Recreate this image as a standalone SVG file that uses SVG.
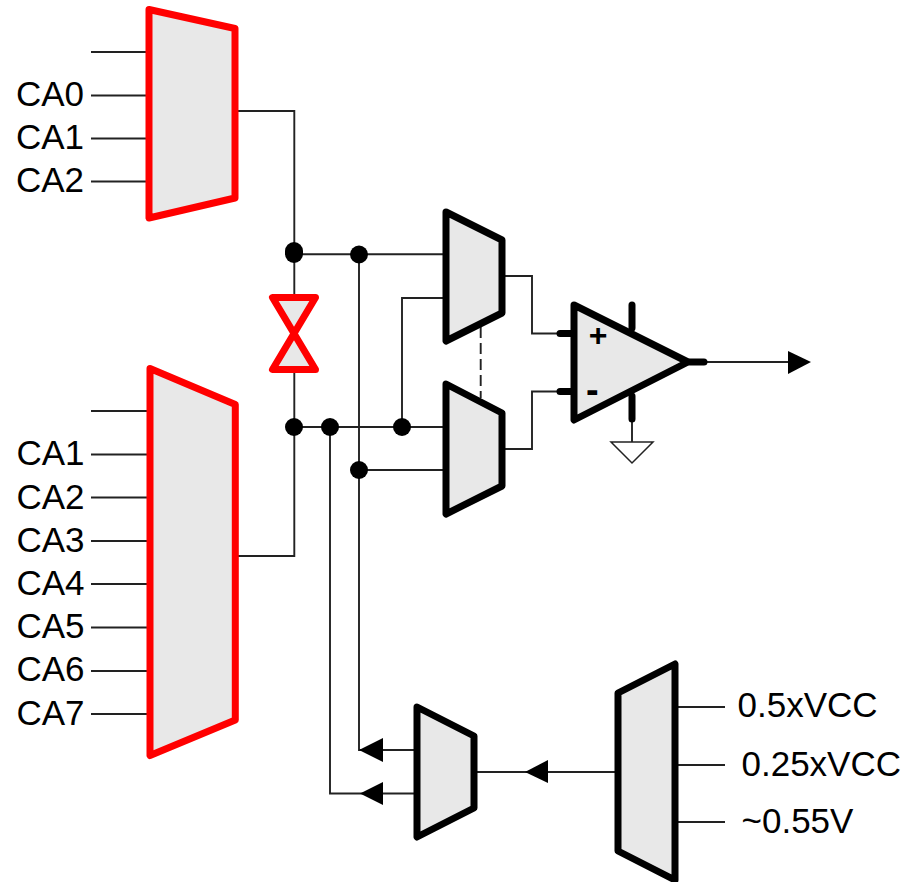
<svg xmlns="http://www.w3.org/2000/svg" width="916" height="882" viewBox="0 0 916 882">
<style>
.w{fill:none;stroke:#222;stroke-width:1.9}
.mux{fill:#e8e8e8;stroke:#000;stroke-width:7;stroke-linejoin:round}
.red{fill:#e8e8e8;stroke:#f00;stroke-width:7;stroke-linejoin:round}
.stub{fill:none;stroke:#000;stroke-width:7;stroke-linecap:round}
.t{font-family:"Liberation Sans",Arial,sans-serif;font-size:35px;fill:#000}
.s{font-family:"Liberation Sans",Arial,sans-serif;font-weight:bold;fill:#000}
.d{fill:#000}
</style>
<rect width="916" height="882" fill="#fff"/>
<g id="connectors">
<path class="w" d="M91 52H149M91 95.500H149M91 138.500H149M91 181.500H149"/>
<path class="w" d="M91 411H150M91 454.500H150M91 497.500H150M91 541H150M91 584H150M91 627.500H150M91 671H150M91 714H150"/>
<path class="w" d="M235 111H294.300V556H235"/>
<path class="w" d="M294 254.300H446M294 427H446M359 254V750H417M330 427V793.500H417M359 470H446M402 427V298H446"/>
<path class="w" d="M502 276H532V333.500H574M502 449H532V391.500H574"/>
<path class="w" stroke-dasharray="11 5" d="M480.700 327V398"/>
<path class="w" d="M688 362H790"/>
<path class="w" d="M474 772H618"/>
<path class="w" d="M675 707H725M675 765H725M675 822H725"/>
<path class="w" d="M632 420V442"/>
<path class="d" d="M811 362L788 351V374Z"/>
<path class="d" d="M525 772L548 760V783Z"/>
<path class="d" d="M359 750L383 738V762Z"/>
<path class="d" d="M360 793.500L383 782V805Z"/>
<circle class="d" cx="359" cy="254.500" r="9"/>
<rect class="d" x="285" y="242" width="18" height="21" rx="9"/>
<circle class="d" cx="294" cy="427" r="9"/>
<circle class="d" cx="330" cy="427" r="9"/>
<circle class="d" cx="402" cy="427" r="9"/>
<circle class="d" cx="359" cy="470" r="9"/>
</g>
<g id="mux-top"><path class="red" d="M149 9.500L235 28.500V198L149 218Z"/>
<text class="t" x="16" y="106">CA0</text><text class="t" x="16" y="149.200">CA1</text><text class="t" x="16" y="192.400">CA2</text></g>
<g id="mux-bottom"><path class="red" d="M150 368.500L235.300 404.500V720L150 755.500Z"/>
<text class="t" x="16.500" y="465.400">CA1</text><text class="t" x="16.500" y="508.600">CA2</text><text class="t" x="16.500" y="551.800">CA3</text><text class="t" x="16.500" y="595">CA4</text><text class="t" x="16.500" y="638.200">CA5</text><text class="t" x="16.500" y="681.400">CA6</text><text class="t" x="16.500" y="724.600">CA7</text></g>
<g id="switch"><path class="red" d="M272.500 297.500H315.500L272.500 369.500H315.500Z"/></g>
<g id="mux-a"><path class="mux" d="M446 212L502 240V313L446 341Z"/></g>
<g id="mux-b"><path class="mux" d="M446 384L502 413V486L446 514Z"/></g>
<g id="mux-c"><path class="mux" d="M417 707L474 736V808L417 837Z"/></g>
<g id="mux-d"><path class="mux" d="M618 693L675 664V880L618 851Z"/>
<text class="t" x="737.500" y="717.400">0.5xVCC</text><text class="t" x="741.500" y="775.700">0.25xVCC</text><text class="t" x="741.500" y="833.300">~0.55V</text></g>
<g id="comparator">
<path class="stub" d="M560 333.500H574M560 391.500H574M632 305V328M632 396V419M690 362H704"/>
<path class="mux" d="M574 305L688 362L574 420Z"/>
<text class="s" x="588.700" y="346" font-size="32">+</text>
<text class="s" x="586" y="403" font-size="38">-</text>
</g>
<g id="ground"><path d="M611 442H653L632 463Z" fill="#fff" stroke="#222" stroke-width="1.500"/></g>
</svg>
